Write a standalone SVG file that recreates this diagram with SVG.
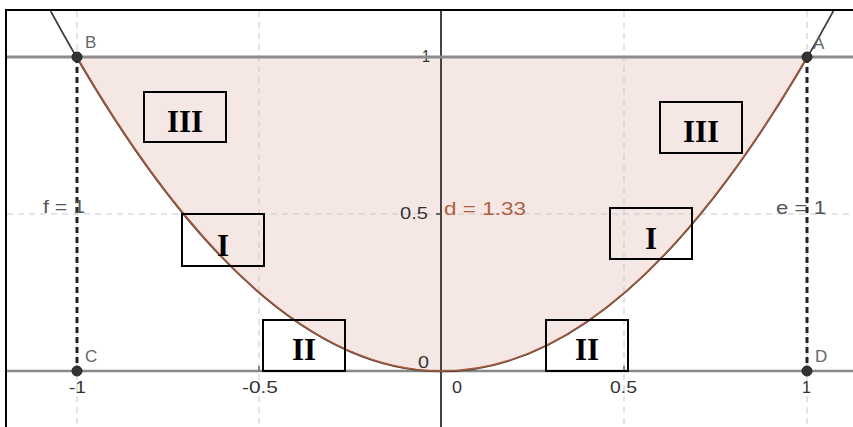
<svg xmlns="http://www.w3.org/2000/svg" width="853" height="427" viewBox="0 0 853 427">
<style>
.grid{stroke:#c9c9c9;stroke-width:1;stroke-dasharray:6 5;fill:none}
.seg{stroke:#222;stroke-width:3;stroke-dasharray:6 4;fill:none}
.pt{fill:#333;stroke:#222;stroke-width:1}
.plab{font-family:"Liberation Sans",Arial,sans-serif;font-size:17px;fill:#666}
.tick{font-family:"Liberation Sans",Arial,sans-serif;font-size:16px;fill:#333}
.lab{font-family:"Liberation Sans",Arial,sans-serif;font-size:19px;fill:#555}
.box{fill:none;stroke:#000;stroke-width:2}
.btxt{font-family:"Liberation Serif","Times New Roman",serif;font-size:31px;font-weight:bold;fill:#000;text-anchor:middle}
</style>
<rect x="0" y="0" width="853" height="427" fill="#fff"/>
<g id="region">
<path d="M77,57 Q442,685 807,57 Z" fill="#f5e8e4"/>
</g>
<g id="grid">
<line class="grid" x1="77" y1="11" x2="77" y2="427"/>
<line class="grid" x1="259" y1="11" x2="259" y2="427"/>
<line class="grid" x1="624" y1="11" x2="624" y2="427"/>
<line class="grid" x1="807" y1="11" x2="807" y2="427"/>
<line class="grid" x1="7" y1="214" x2="853" y2="214"/>
</g>
<g id="axes">
<line x1="7" y1="371" x2="853" y2="371" stroke="#888" stroke-width="2.5"/>
<line x1="441" y1="11" x2="441" y2="427" stroke="#444" stroke-width="2"/>
<line x1="259" y1="366" x2="259" y2="371" stroke="#666" stroke-width="1.5"/>
<line x1="624" y1="366" x2="624" y2="371" stroke="#666" stroke-width="1.5"/>
<line x1="436" y1="214" x2="441" y2="214" stroke="#444" stroke-width="1.5"/>
<text class="tick" x="69" y="393" textLength="17" lengthAdjust="spacingAndGlyphs">-1</text>
<text class="tick" x="242" y="393" textLength="36" lengthAdjust="spacingAndGlyphs">-0.5</text>
<text class="tick" x="452" y="393" textLength="10" lengthAdjust="spacingAndGlyphs">0</text>
<text class="tick" x="610" y="393" textLength="27" lengthAdjust="spacingAndGlyphs">0.5</text>
<text class="tick" x="802" y="393" textLength="9" lengthAdjust="spacingAndGlyphs">1</text>
<text class="tick" x="418" y="368" textLength="11" lengthAdjust="spacingAndGlyphs">0</text>
<text class="tick" x="400" y="219" textLength="28" lengthAdjust="spacingAndGlyphs">0.5</text>
<text class="tick" x="422" y="62" textLength="8" lengthAdjust="spacingAndGlyphs">1</text>
</g>
<g id="connectors">
<line id="lineY1" x1="7" y1="57" x2="853" y2="57" stroke="#8c8c8c" stroke-width="3"/>
<path id="parabola" d="M50.6,11 Q442,732 833.4,11" fill="none" stroke="#3a3a3a" stroke-width="1.6"/>
<path id="integralEdge" d="M77,57 Q442,685 807,57" fill="none" stroke="#a85a3c" stroke-width="1.5"/>
<line id="f" class="seg" x1="77" y1="57" x2="77" y2="371"/>
<line id="e" class="seg" x1="807" y1="57" x2="807" y2="371"/>
<text class="lab" x="43" y="213" textLength="42" lengthAdjust="spacingAndGlyphs">f = 1</text>
<text class="lab" x="776" y="214" textLength="50" lengthAdjust="spacingAndGlyphs">e = 1</text>
<text class="lab" x="444" y="215" textLength="82" lengthAdjust="spacingAndGlyphs" style="fill:#b0603f">d = 1.33</text>
</g>
<g id="B"><circle class="pt" cx="77" cy="57" r="5"/><text class="plab" x="85" y="48">B</text></g>
<g id="A"><circle class="pt" cx="807" cy="57" r="5"/><text class="plab" x="813" y="49">A</text></g>
<g id="C"><circle class="pt" cx="77" cy="371" r="5"/><text class="plab" x="85" y="362">C</text></g>
<g id="D"><circle class="pt" cx="807" cy="371" r="5"/><text class="plab" x="815" y="362">D</text></g>
<g id="box-III-left"><rect class="box" x="144" y="92" width="82" height="50"/><text class="btxt" x="185" y="132">III</text></g>
<g id="box-III-right"><rect class="box" x="660" y="102" width="82" height="51"/><text class="btxt" x="701" y="142">III</text></g>
<g id="box-I-left"><rect class="box" x="182" y="214" width="82" height="52"/><text class="btxt" x="223" y="256">I</text></g>
<g id="box-I-right"><rect class="box" x="610" y="208" width="82" height="51"/><text class="btxt" x="651" y="249">I</text></g>
<g id="box-II-left"><rect class="box" x="263" y="320" width="82" height="51"/><text class="btxt" x="304" y="360">II</text></g>
<g id="box-II-right"><rect class="box" x="546" y="320" width="82" height="51"/><text class="btxt" x="587" y="360">II</text></g>
<g id="frame">
<line x1="5" y1="10" x2="853" y2="10" stroke="#000" stroke-width="2"/>
<line x1="6" y1="9" x2="6" y2="427" stroke="#000" stroke-width="2"/>
</g>
</svg>
